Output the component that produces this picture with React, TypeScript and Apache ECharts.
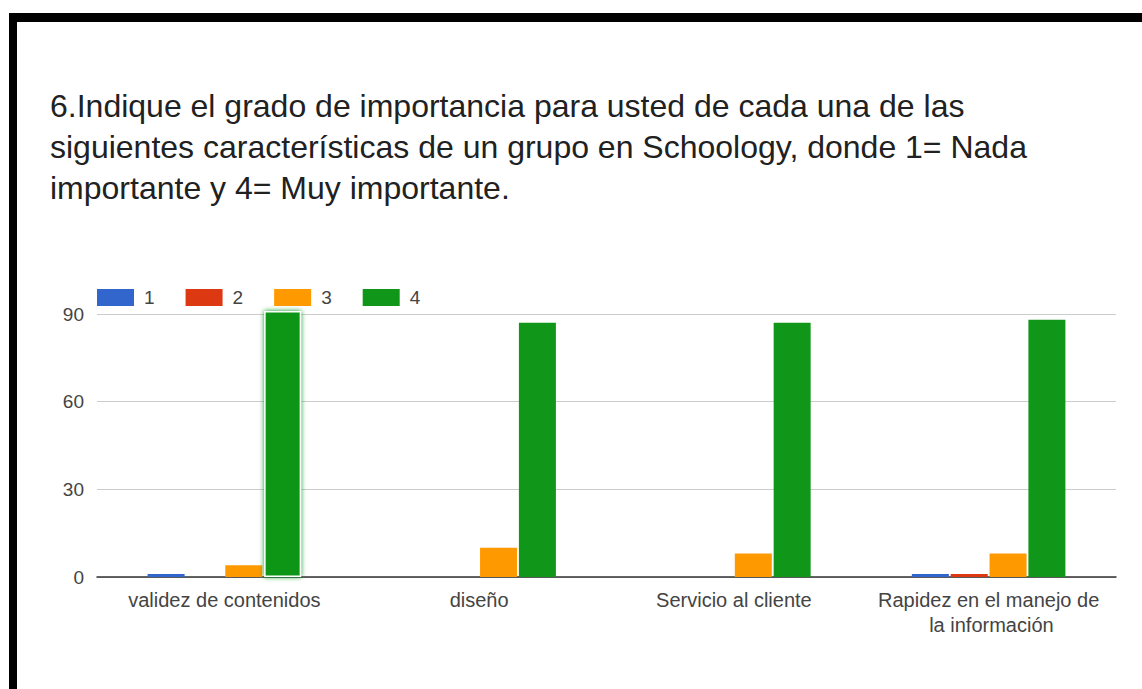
import React, { useEffect, useRef } from "react";
import * as echarts from "echarts";

const titleText =
  "6.Indique el grado de importancia para usted de cada una de las\nsiguientes características de un grupo en Schoology, donde 1= Nada\nimportante y 4= Muy importante.";
const categories = [
  "validez de contenidos",
  "diseño",
  "Servicio al cliente",
  "Rapidez en el manejo de la información",
];
const seriesNames = ["1", "2", "3", "4"];
const values1 = [1, 0, 0, 1];
const values2 = [0, 0, 0, 1];
const values3 = [4, 10, 8, 8];
const values4 = [91, 87, 87, 88];
const colors = ["#3366cc", "#dc3912", "#ff9900", "#109618"];
const yTicks = { min: 0, max: 90, interval: 30 };

export default function App() {
  const ref = useRef<HTMLDivElement>(null);
  useEffect(() => {
    if (!ref.current) return;
    const chart = echarts.init(ref.current, null, { renderer: "svg" });
    const all = [values1, values2, values3, values4];
    const font = "Arial, 'Liberation Sans', sans-serif";
    chart.setOption({
      animation: false,
      backgroundColor: "#ffffff",
      color: colors,
      title: {
        text: titleText,
        left: 45,
        top: 80,
        textStyle: {
          fontFamily: font,
          fontSize: 32,
          fontWeight: "normal",
          color: "#212121",
          lineHeight: 41,
        },
      },
      legend: {
        left: 92,
        top: 283,
        itemWidth: 37,
        itemHeight: 17,
        itemGap: 31,
        icon: "rect",
        textStyle: { fontFamily: font, fontSize: 19, color: "#444", padding: [0, 0, 0, 5] },
        data: seriesNames,
      },
      grid: { left: 97, right: 26, top: 314, bottom: 112, containLabel: false },
      xAxis: {
        type: "category",
        data: categories,
        axisTick: { show: false },
        axisLine: { lineStyle: { color: "#333", width: 1.5 } },
        axisLabel: {
          fontFamily: font,
          fontSize: 20,
          color: "#444",
          margin: 10,
          lineHeight: 25,
          width: 225,
          overflow: "break",
          interval: 0,
        },
      },
      yAxis: {
        type: "value",
        min: yTicks.min,
        max: yTicks.max,
        interval: yTicks.interval,
        axisLine: { show: false },
        axisTick: { show: false },
        splitLine: { lineStyle: { color: "#cccccc" } },
        axisLabel: { fontFamily: font, fontSize: 19, color: "#444", margin: 13 },
      },
      series: all.map((vals, i) => ({
        name: seriesNames[i],
        type: "bar",
        barWidth: 37,
        barGap: "5%",
        clip: false,
        data: vals.map((v, j) =>
          i === 3 && j === 0
            ? {
                value: v,
                itemStyle: {
                  color: colors[3],
                  borderColor: "#ffffff",
                  borderWidth: 1.5,
                  shadowColor: colors[3],
                  shadowBlur: 5,
                },
              }
            : v
        ),
      })),
      graphic: [
        { type: "rect", shape: { x: 9, y: 13, width: 1133, height: 9 }, style: { fill: "#000" } },
        { type: "rect", shape: { x: 9, y: 13, width: 8, height: 676 }, style: { fill: "#000" } },
      ],
    });
    return () => chart.dispose();
  }, []);
  return (
    <div
      ref={ref}
      style={{ position: "fixed", left: 0, top: 0, width: 1142, height: 689 }}
    />
  );
}
